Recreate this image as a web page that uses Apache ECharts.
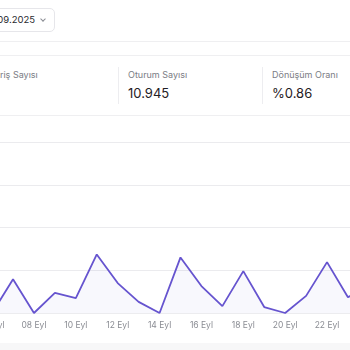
<!DOCTYPE html>
<html>
<head>
<meta charset="utf-8">
<script src="https://cdn.jsdelivr.net/npm/echarts@6/dist/echarts.min.js"></script>
<style>
  html, body { margin:0; padding:0; width:350px; height:350px; overflow:hidden; background:#fff; font-family: Inter, "Noto Sans", sans-serif; }
  .hline { position:absolute; left:0; width:350px; height:1px; background:#efeff1; }
  .vline { position:absolute; width:1px; background:#ededf0; }
  .lbl { position:absolute; font-size:9px; color:#7b7d85; white-space:nowrap; }
  .val { position:absolute; font-size:13px; color:#1f2024; white-space:nowrap; }
  #datebtn { position:absolute; left:-40px; top:8px; width:95px; height:24px; border:1px solid #e6e6ea; border-radius:5px; box-sizing:border-box; }
  #datetxt { position:absolute; right:19px; top:5px; font-size:9.5px; color:#2a2b30; white-space:nowrap; }
  #chev { position:absolute; right:9px; top:8px; width:3px; height:3px; border-right:1px solid #8a8c93; border-bottom:1px solid #8a8c93; transform:rotate(45deg); }
  #bottom { position:absolute; left:0; top:343px; width:350px; height:7px; background:#f7f7f8; }
  #chart { position:absolute; left:-60px; top:120px; width:470px; height:223px; }
</style>
</head>
<body>
<div id="datebtn"><div id="datetxt">30.09.2025</div><div id="chev"></div></div>
<div class="hline" style="top:41px"></div>
<div class="hline" style="top:55px"></div>
<div class="lbl" style="left:-9px; top:69px">Giriş Sayısı</div>
<div class="vline" style="left:118px; top:67px; height:37px"></div>
<div class="lbl" style="left:128px; top:69px">Oturum Sayısı</div>
<div class="val" style="left:128px; top:85px">10.945</div>
<div class="vline" style="left:262px; top:67px; height:37px"></div>
<div class="lbl" style="left:272px; top:69px">Dönüşüm Oranı</div>
<div class="val" style="left:272px; top:85px">%0.86</div>
<div class="hline" style="top:115px"></div>
<div id="chart"></div>
<div id="bottom"></div>
<script>
const categories = ["06 Eyl","07 Eyl","08 Eyl","09 Eyl","10 Eyl","11 Eyl","12 Eyl","13 Eyl","14 Eyl","15 Eyl","16 Eyl","17 Eyl","18 Eyl","19 Eyl","20 Eyl","21 Eyl","22 Eyl","23 Eyl","24 Eyl"];
const sessions = [0, 79, 0, 47, 35, 137, 70, 26, 0, 130, 63, 16, 98, 14, 0, 40, 119, 37, 60];
const yTicks = [0, 100, 200, 300, 400];

const chart = echarts.init(document.getElementById('chart'), null, {renderer:'canvas'});
chart.setOption({
  animation: false,
  grid: { left: 52.1, right: 41.1, top: 22, height: 171 },
  xAxis: {
    type: 'category',
    data: categories,
    boundaryGap: false,
    axisLine: { show: true, lineStyle: { color: '#ececef' } },
    axisTick: { show: false },
    axisLabel: { interval: 1, color: '#8a8c93', fontSize: 8.5, margin: 8, fontFamily: 'Inter' }
  },
  yAxis: {
    type: 'value',
    min: yTicks[0],
    max: yTicks[yTicks.length - 1],
    interval: 100,
    axisLabel: { show: false },
    axisLine: { show: false },
    axisTick: { show: false },
    splitLine: { lineStyle: { color: '#ebebee', width: 1 } }
  },
  series: [{
    type: 'line',
    data: sessions,
    symbol: 'none',
    lineStyle: { color: '#6654cf', width: 1.8 },
    areaStyle: { color: 'rgba(102,84,207,0.06)' }
  }]
});
</script>
</body>
</html>
